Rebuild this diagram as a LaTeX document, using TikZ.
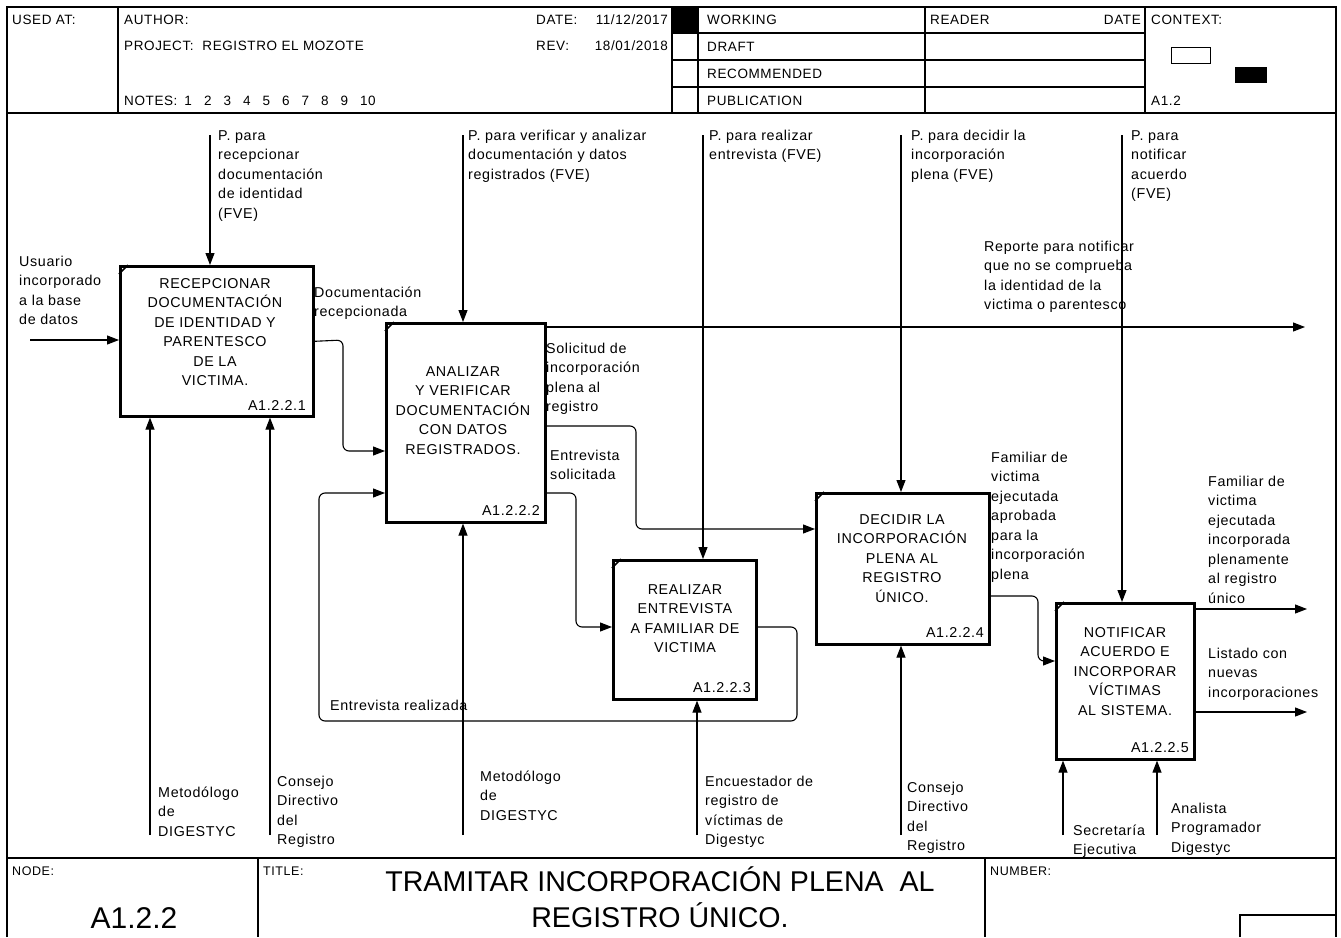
\documentclass[tikz,border=0pt]{standalone}
\usepackage{fontspec}
\setmainfont{Liberation Sans}[LetterSpace=4.5]
\newfontfamily\plainfont{Liberation Sans}
\usetikzlibrary{arrows.meta}
\newcommand\txtsz{\fontsize{14.3}{19.5}\selectfont}
\newcommand\hdrsz{\fontsize{13.5}{16}\selectfont}
\newcommand\smallsz{\fontsize{12.5}{15}\selectfont}
\newcommand\bigsz{\plainfont\fontsize{28.6}{36}\selectfont}
\newcommand\nodesz{\plainfont\fontsize{30}{36}\selectfont}
% strut that fixes the height of a first text line
\newcommand\fst{\rule{0pt}{11pt}}
\newcommand\ngap{\hspace{12pt}}

\begin{document}
\begin{tikzpicture}[x=1pt,y=-1pt,
  frame/.style={line width=1.4pt},
  box/.style={draw,line width=2.6pt,anchor=north west,inner sep=0pt},
  flow/.style={line width=1.1pt,rounded corners=6pt},
  arr/.style={flow,-{Triangle[length=12pt,width=9pt]}},
  lbl/.style={font=\txtsz,align=left,anchor=north west,inner sep=0pt},
  boxtxt/.style={font=\txtsz,align=center,anchor=north,inner sep=0pt},
  code/.style={font=\txtsz,anchor=base east,inner sep=0pt},
  hdr/.style={font=\hdrsz,anchor=base west,inner sep=0pt},
  hdrr/.style={font=\hdrsz,anchor=base east,inner sep=0pt},
  cell/.style={font=\smallsz,anchor=base west,inner sep=0pt}]
\useasboundingbox (0,0) rectangle (1341,937);

% ---------- sheet frame ----------
\draw[frame] (7,937) -- (7,7) -- (1336,7) -- (1336,937);
\draw[frame] (7,113) -- (1336,113);
\draw[frame] (118,7) -- (118,113);
\foreach \x in {672,698,925,1145} \draw[frame] (\x,7) -- (\x,113);
\foreach \y in {33,60,87} \draw[frame] (672,\y) -- (1145,\y);
\fill (672,7) rectangle (698,33);
\draw[line width=1pt] (1171,47) rectangle (1210,63);
\fill (1235,67) rectangle (1267,83);
\draw[frame] (7,858) -- (1336,858);
\draw[frame] (258,858) -- (258,937);
\draw[frame] (985,858) -- (985,937);
\draw[frame] (1240,937) -- (1240,915) -- (1336,915);

% ---------- header texts ----------
\node[hdr] (usedat) at (12,24) {USED AT:};
\node[hdr] (author) at (124,24) {AUTHOR:};
\node[hdr] (datek) at (536,24) {DATE:};
\node[hdrr] (datev) at (668,24) {11/12/2017};
\node[hdr] (project) at (124,50) {PROJECT:\ \ REGISTRO EL MOZOTE};
\node[hdr] (revk) at (536,50) {REV:};
\node[hdrr] (revv) at (668,50) {18/01/2018};
\node[hdr] (notes) at (124,105) {NOTES:\hspace{7pt}1\ngap 2\ngap 3\ngap 4\ngap 5\ngap 6\ngap 7\ngap 8\ngap 9\ngap 10};
\node[hdr] (working) at (707,24) {WORKING};
\node[hdr] (draft) at (707,51) {DRAFT};
\node[hdr] (recom) at (707,78) {RECOMMENDED};
\node[hdr] (public) at (707,105) {PUBLICATION};
\node[hdr] (reader) at (930,24) {READER};
\node[hdrr] (rdate) at (1141,24) {DATE};
\node[hdr] (context) at (1151,24) {CONTEXT:};
\node[hdr] (ctxnode) at (1151,105) {A1.2};

% ---------- footer ----------
\node[cell] (nodek) at (12,875) {NODE:};
\node[cell] (titlek) at (263,875) {TITLE:};
\node[cell] (numk) at (990,875) {NUMBER:};
\node[font=\nodesz,anchor=base,inner sep=0pt] (nodev) at (134,928) {A1.2.2};
\node[font=\bigsz,align=center,anchor=north,inner sep=0pt] (titlev) at (660,864)
  {\rule{0pt}{27pt}TRAMITAR INCORPORACIÓN PLENA\ \ AL\\REGISTRO ÚNICO.};

% ---------- activity boxes ----------
\node[box,minimum width=193pt,minimum height=150pt] (b1) at (119,265) {};
\node[box,minimum width=159pt,minimum height=199pt] (b2) at (385,322) {};
\node[box,minimum width=143pt,minimum height=139pt] (b3) at (612,559) {};
\node[box,minimum width=173pt,minimum height=151pt] (b4) at (815,492) {};
\node[box,minimum width=138pt,minimum height=156pt] (b5) at (1055,602) {};
\foreach \b in {b1,b2,b3,b4,b5}
  \draw[line width=1.6pt] ([yshift=-9pt]\b.north west) -- ([xshift=9pt]\b.north west);

\node[boxtxt] (t1) at (215,277) {\fst RECEPCIONAR\\DOCUMENTACIÓN\\DE IDENTIDAD Y\\PARENTESCO\\DE LA\\VICTIMA.};
\node[boxtxt] (t2) at (463,365) {\fst ANALIZAR\\Y VERIFICAR\\DOCUMENTACIÓN\\CON DATOS\\REGISTRADOS.};
\node[boxtxt] (t3) at (685,583) {\fst REALIZAR\\ENTREVISTA\\A FAMILIAR DE\\VICTIMA};
\node[boxtxt] (t4) at (902,513) {\fst DECIDIR LA\\INCORPORACIÓN\\PLENA AL\\REGISTRO\\ÚNICO.};
\node[boxtxt] (t5) at (1125,626) {\fst NOTIFICAR\\ACUERDO E\\INCORPORAR\\VÍCTIMAS\\AL SISTEMA.};

\node[code] (k1) at (306,410) {A1.2.2.1};
\node[code] (k2) at (540,515) {A1.2.2.2};
\node[code] (k3) at (751,692) {A1.2.2.3};
\node[code] (k4) at (984,637) {A1.2.2.4};
\node[code] (k5) at (1189,752) {A1.2.2.5};

% ---------- controls ----------
\coordinate (c1) at (210,135);
\coordinate (c2) at (463,135);
\coordinate (c3) at (703,135);
\coordinate (c4) at (901,135);
\coordinate (c5) at (1122,135);
\draw[arr] (c1) -- (c1 |- b1.north);
\draw[arr] (c2) -- (c2 |- b2.north);
\draw[arr] (c3) -- (c3 |- b3.north);
\draw[arr] (c4) -- (c4 |- b4.north);
\draw[arr] (c5) -- (c5 |- b5.north);

% ---------- mechanisms ----------
\coordinate (m1a) at (150,835);
\coordinate (m1b) at (270,835);
\coordinate (m2) at (463,835);
\coordinate (m3) at (697,835);
\coordinate (m4) at (901,835);
\coordinate (m5a) at (1063,835);
\coordinate (m5b) at (1157,835);
\draw[arr] (m1a) -- (m1a |- b1.south);
\draw[arr] (m1b) -- (m1b |- b1.south);
\draw[arr] (m2) -- (m2 |- b2.south);
\draw[arr] (m3) -- (m3 |- b3.south);
\draw[arr] (m4) -- (m4 |- b4.south);
\draw[arr] (m5a) -- (m5a |- b5.south);
\draw[arr] (m5b) -- (m5b |- b5.south);

% ---------- inputs and outputs ----------
\coordinate (in1) at (30,340);
\coordinate (o1) at (1305,327);
\coordinate (o2) at (1307,609);
\coordinate (o3) at (1307,712);
\draw[arr] (in1) -- (in1 -| b1.west);
\draw[arr] (b2.east |- o1) -- (o1);
\draw[arr] (b5.east |- o2) -- (o2);
\draw[arr] (b5.east |- o3) -- (o3);

\draw[arr] (b1.east) -- (343,340) -- (343,451) -- (b2.west |- 0,451);
\draw[arr] (b2.east |- 0,426) -- (636,426) -- (636,529) -- (b4.west |- 0,529);
\draw[arr] (b2.east |- 0,493) -- (576,493) -- (576,627) -- (b3.west |- 0,627);
\draw[arr] (b3.east |- 0,627) -- (797,627) -- (797,721) -- (319,721) -- (319,493) -- (b2.west |- 0,493);
\draw[arr] (b4.east |- 0,596) -- (1038,596) -- (1038,661) -- (b5.west |- 0,661);

% ---------- arrow labels ----------
\node[lbl] (l_in) at (19,255) {\fst Usuario\\incorporado\\a la base\\de datos};
\node[lbl] (l_c1) at (218,129) {\fst P. para\\recepcionar\\documentación\\de identidad\\(FVE)};
\node[lbl] (l_c2) at (468,129) {\fst P. para verificar y analizar\\documentación y datos\\registrados (FVE)};
\node[lbl] (l_c3) at (709,129) {\fst P. para realizar\\entrevista (FVE)};
\node[lbl] (l_c4) at (911,129) {\fst P. para decidir la\\incorporación\\plena (FVE)};
\node[lbl] (l_c5) at (1131,129) {\fst P. para\\notificar\\acuerdo\\(FVE)};
\node[lbl] (l_o1) at (984,240) {\fst Reporte para notificar\\que no se comprueba\\la identidad de la\\victima o parentesco};
\node[lbl] (l_12) at (314,286) {\fst Documentación\\recepcionada};
\node[lbl] (l_24) at (546,342) {\fst Solicitud de\\incorporación\\plena al\\registro};
\node[lbl] (l_23) at (550,449) {\fst Entrevista\\solicitada};
\node[lbl] (l_32) at (330,699) {\fst Entrevista realizada};
\node[lbl] (l_45) at (991,451) {\fst Familiar de\\victima\\ejecutada\\aprobada\\para la\\incorporación\\plena};
\node[lbl] (l_o2) at (1208,475) {\fst Familiar de\\victima\\ejecutada\\incorporada\\plenamente\\al registro\\único};
\node[lbl] (l_o3) at (1208,647) {\fst Listado con\\nuevas\\incorporaciones};
\node[lbl] (l_m1a) at (158,786) {\fst Metodólogo\\de\\DIGESTYC};
\node[lbl] (l_m1b) at (277,775) {\fst Consejo\\Directivo\\del\\Registro};
\node[lbl] (l_m2) at (480,770) {\fst Metodólogo\\de\\DIGESTYC};
\node[lbl] (l_m3) at (705,775) {\fst Encuestador de\\registro de\\víctimas de\\Digestyc};
\node[lbl] (l_m4) at (907,781) {\fst Consejo\\Directivo\\del\\Registro};
\node[lbl] (l_m5a) at (1073,824) {\fst Secretaría\\Ejecutiva};
\node[lbl] (l_m5b) at (1171,802) {\fst Analista\\Programador\\Digestyc};
\end{tikzpicture}
\end{document}
